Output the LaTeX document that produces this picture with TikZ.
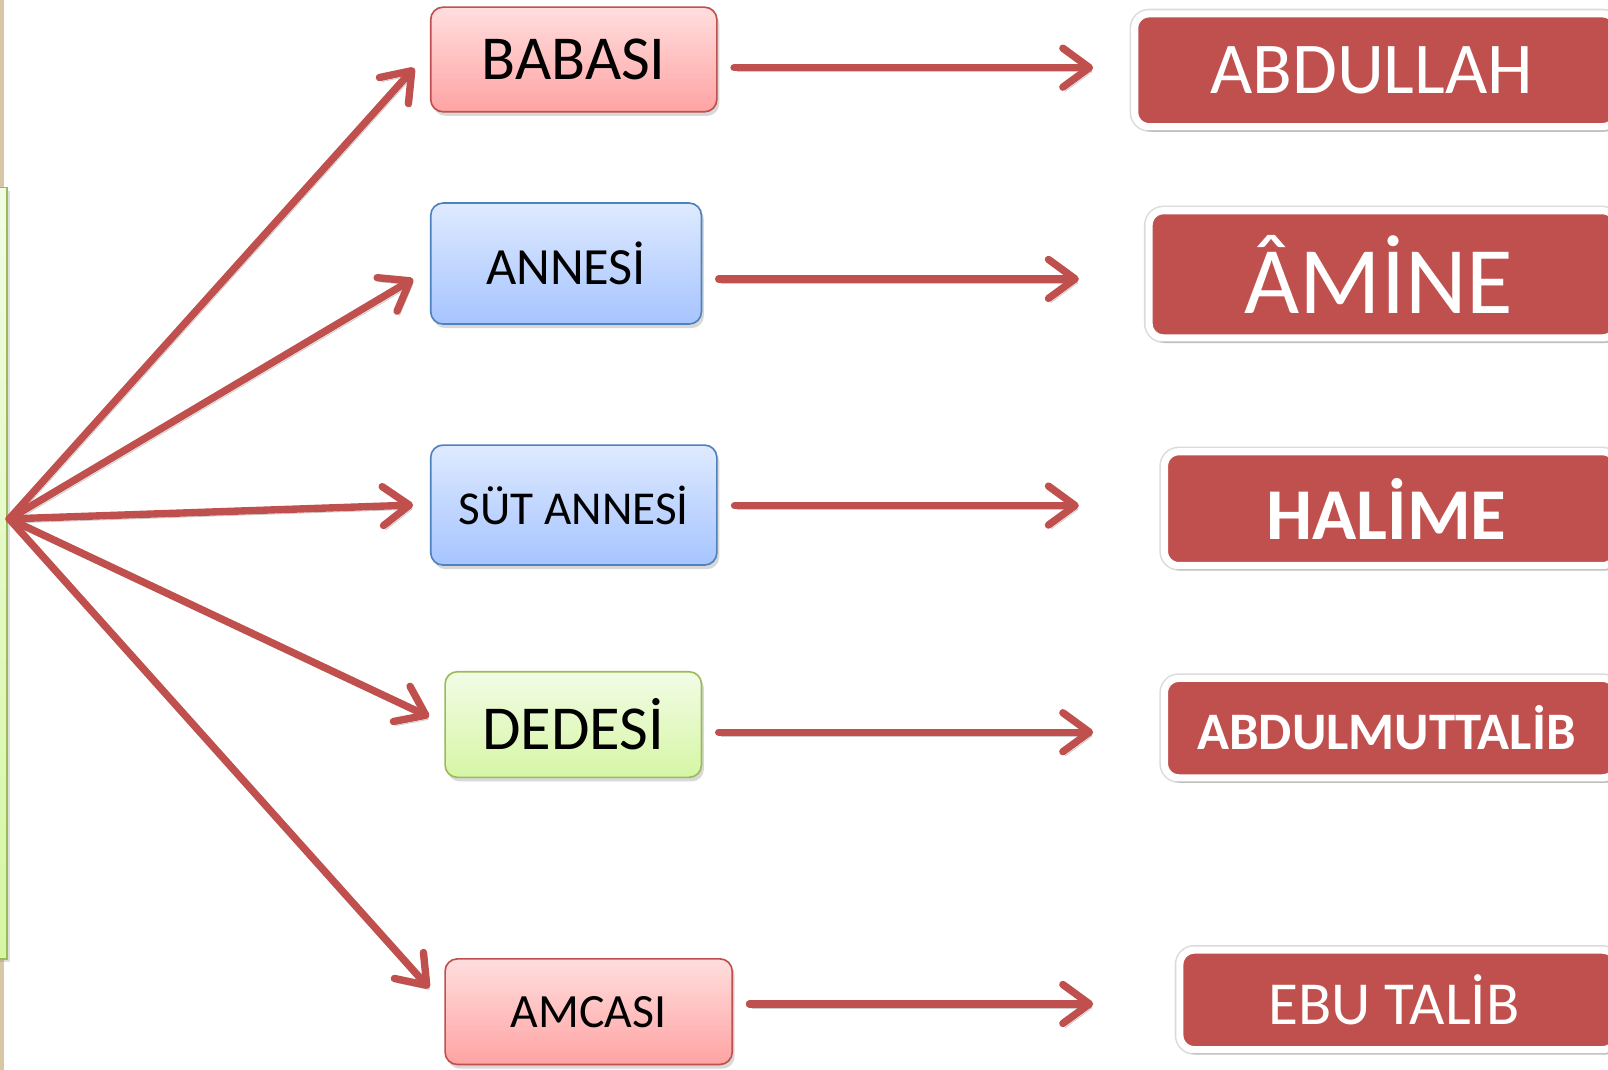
\documentclass[tikz,border=0pt]{standalone}
\usepackage{fontspec}
\setmainfont{Carlito}
\usetikzlibrary{arrows.meta,shadows,calc}
\definecolor{redc}{HTML}{C0504D}
\definecolor{pinkT}{HTML}{FFDEDE}
\definecolor{pinkB}{HTML}{FFA3A3}
\definecolor{blueT}{HTML}{DEEAFF}
\definecolor{blueB}{HTML}{A6C4FF}
\definecolor{blueE}{HTML}{4F81BD}
\definecolor{greenT}{HTML}{F2FCE6}
\definecolor{greenB}{HTML}{D6F6A4}
\definecolor{greenE}{HTML}{9BBB59}
\definecolor{beige}{HTML}{D8C7A4}
\begin{document}
\begin{tikzpicture}[x=0.5pt,y=-0.5pt,
  arr/.style={draw=redc, line width=3.6pt, line cap=round, line join=round,
    -{Straight Barb[length=13pt,width=19pt,line cap=round,line join=round]},
    preaction={draw=black, opacity=0.2, transform canvas={shift={(1.2pt,-2pt)}}}},
  midbox/.style={rounded corners=6pt, line width=0.8pt, inner sep=0pt,
    drop shadow={shadow xshift=1.2pt, shadow yshift=-2pt, opacity=0.3}},
  pinkbox/.style={midbox, draw=redc, top color=pinkT, bottom color=pinkB},
  bluebox/.style={midbox, draw=blueE, top color=blueT, bottom color=blueB},
  greenbox/.style={midbox, draw=greenE, top color=greenT, bottom color=greenB},
  namebox/.style={rounded corners=7pt, fill=redc, draw=white, line width=3.5pt,
    text=white, inner sep=0pt,
    preaction={draw=black!14, line width=5pt},
    drop shadow={shadow xshift=1.5pt, shadow yshift=-2.5pt, opacity=0.3}},
]
\useasboundingbox (0,0) rectangle (1568,1043);
\clip (0,0) rectangle (1568,1043);
\fill[white] (0,0) rectangle (1568,1043);

% left edge decoration
\fill[beige] (0,0) rectangle (4,183);
\fill[beige] (0,935) rectangle (4,1043);
\draw[greenE, line width=0.8pt, top color=greenT, bottom color=greenB,
  drop shadow={shadow xshift=1.5pt, shadow yshift=-1.5pt, opacity=0.25}]
  (-20,183) rectangle (7,935);
\coordinate (o) at (9,506);

% middle boxes
\node[pinkbox, minimum width=139.5pt, minimum height=51pt,
  font=\fontsize{30.5}{34}\selectfont] (babasi) at (559.5,58) {BABASI};
\node[bluebox, minimum width=132pt, minimum height=59pt,
  font=\fontsize{25.5}{30}\selectfont] (annesi) at (552,257) {ANNESİ};
\node[bluebox, minimum width=139.5pt, minimum height=58.5pt,
  font=\fontsize{23}{28}\selectfont] (sut) at (559.5,492.5) {SÜT ANNESİ};
\node[greenbox, minimum width=125pt, minimum height=51.5pt,
  font=\fontsize{30.5}{34}\selectfont] (dedesi) at (559,706.5) {DEDESİ};
\node[pinkbox, minimum width=140pt, minimum height=51.5pt,
  font=\fontsize{23.3}{28}\selectfont] (amcasi) at (574,986.5) {AMCASI};

% right name boxes (run off the right edge)
\node[namebox, minimum width=235pt, minimum height=55pt,
  font=\fontsize{35.6}{40}\selectfont] (abdullah) at (1341.5,68.5) {ABDULLAH\hspace*{4pt}};
\node[namebox, minimum width=228pt, minimum height=62pt,
  font=\fontsize{46.5}{50}\selectfont] (amine) at (1348.5,267.5) {ÂMİNE\hspace*{4pt}};
\node[namebox, minimum width=220.5pt, minimum height=55.5pt,
  font=\bfseries\fontsize{35.6}{40}\selectfont] (halime) at (1356,496) {HALİME\hspace*{4pt}};
\node[namebox, minimum width=220.5pt, minimum height=48.5pt,
  font=\bfseries\fontsize{25.7}{30}\selectfont] (abdulm) at (1356,710) {ABDULMUTTALİB\hspace*{4pt}};
\node[namebox, minimum width=213pt, minimum height=48.5pt,
  font=\fontsize{29.8}{34}\selectfont] (ebu) at (1363.5,975) {EBU TALİB\hspace*{4pt}};

% fan arrows
\draw[arr] (o) -- ([shift={(-15.3,8.3)}]babasi.west);
\draw[arr] (o) -- ([shift={(-16.3,15)}]annesi.west);
\draw[arr] (o) -- ([shift={(-16.3,0)}]sut.west);
\draw[arr] (o) -- ([shift={(-14.7,-7.5)}]dedesi.west);
\draw[arr] (o) -- ([shift={(-14.7,-23)}]amcasi.west);

% horizontal arrows
\draw[arr] ([shift={(16,8)}]babasi.east) -- ([shift={(-37,-2.5)}]abdullah.west);
\draw[arr] ([shift={(16,15)}]annesi.east) -- ([shift={(-65,4.5)}]amine.west);
\draw[arr] ([shift={(16.5,0.5)}]sut.east) -- ([shift={(-80,-3)}]halime.west);
\draw[arr] ([shift={(16,7.5)}]dedesi.east) -- ([shift={(-66,4)}]abdulm.west);
\draw[arr] ([shift={(16,-7.5)}]amcasi.east) -- ([shift={(-81,4)}]ebu.west);
\end{tikzpicture}
\end{document}
